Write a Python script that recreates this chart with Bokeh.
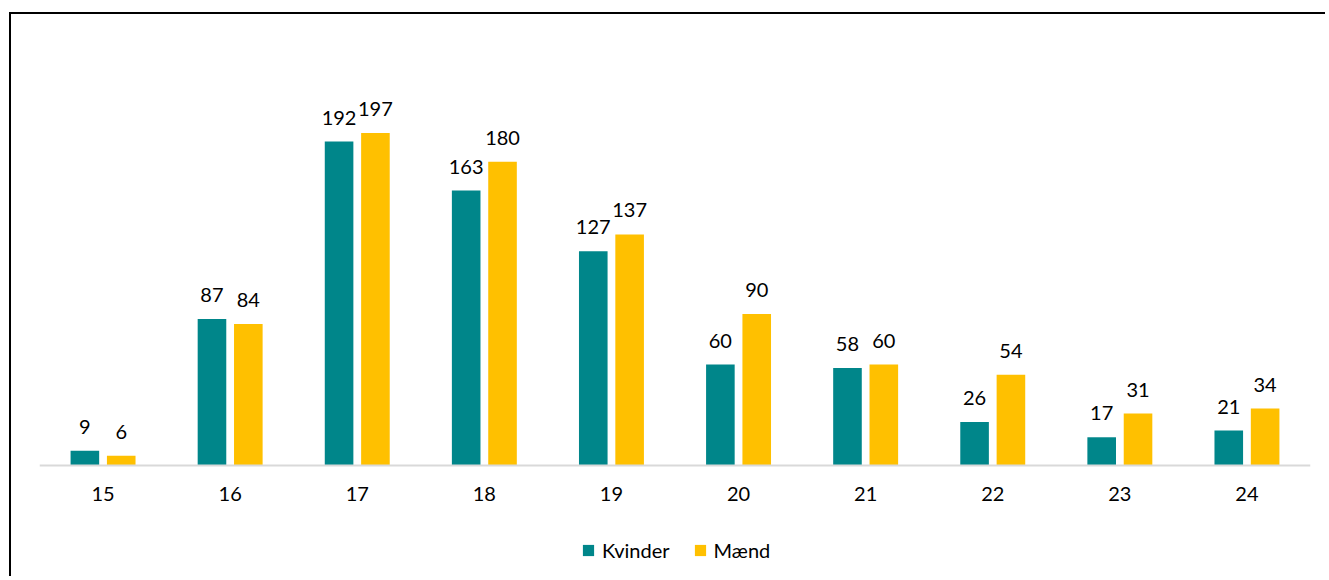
from bokeh.plotting import figure
from bokeh.models import ColumnDataSource, LabelSet, Legend, LegendItem, FactorRange, Range1d
from bokeh.core.properties import value
from bokeh.transform import dodge
from bokeh.embed import file_html
from bokeh.resources import INLINE

ages = ["15", "16", "17", "18", "19", "20", "21", "22", "23", "24"]
kvinder = [9, 87, 192, 163, 127, 60, 58, 26, 17, 21]
maend = [6, 84, 197, 180, 137, 90, 60, 54, 31, 34]

TEAL = "#00868A"
YELLOW = "#FFC000"
FONT = "Lato"

src = ColumnDataSource(dict(age=ages, k=kvinder, m=maend,
                            kl=[str(v) for v in kvinder], ml=[str(v) for v in maend]))

p = figure(width=1316, height=564, x_range=FactorRange(*ages), y_range=Range1d(-66.57, 257.69),
           output_backend="svg", toolbar_location=None, y_axis_location=None,
           min_border_left=28, min_border_right=17, min_border_top=16, min_border_bottom=0)
p.styles = {"border-top": "2px solid black", "border-left": "2px solid black",
            "margin-top": "12px", "margin-left": "9px"}
p.outline_line_color = None
p.grid.visible = False

r1 = p.vbar(x=dodge("age", -0.143, range=p.x_range), top="k", bottom=0, width=0.225, source=src,
            fill_color=TEAL, line_color=None)
r2 = p.vbar(x=dodge("age", 0.143, range=p.x_range), top="m", bottom=0, width=0.225, source=src,
            fill_color=YELLOW, line_color=None)

for col, off in (("kl", -0.143), ("ml", 0.143)):
    y = "k" if col == "kl" else "m"
    p.add_layout(LabelSet(x=dodge("age", off, range=p.x_range), y=y, text=col, source=src,
                          y_offset=17, text_align="center", text_baseline="alphabetic",
                          text_font=value(FONT), text_font_size=value("20px"),
                          text_color="#000000"))

ax = p.xaxis[0]
ax.fixed_location = 0
ax.axis_line_color = "#D9D9D9"
ax.axis_line_width = 2
ax.major_tick_line_color = None
ax.minor_tick_line_color = None
ax.major_label_text_font = FONT
ax.major_label_text_font_size = "20px"
ax.major_label_text_color = "#000000"
ax.major_label_standoff = 15

legend = Legend(items=[LegendItem(label="Kvinder", renderers=[r1]),
                       LegendItem(label="Mænd", renderers=[r2])],
                orientation="horizontal", location=(542, 16),
                border_line_color=None, background_fill_alpha=0,
                glyph_width=14, glyph_height=14, label_standoff=7, spacing=23,
                label_text_font=FONT, label_text_font_size="20px",
                label_text_color="#000000", padding=0, margin=0)
p.add_layout(legend)

open("out.html", "w").write(file_html(p, INLINE))
